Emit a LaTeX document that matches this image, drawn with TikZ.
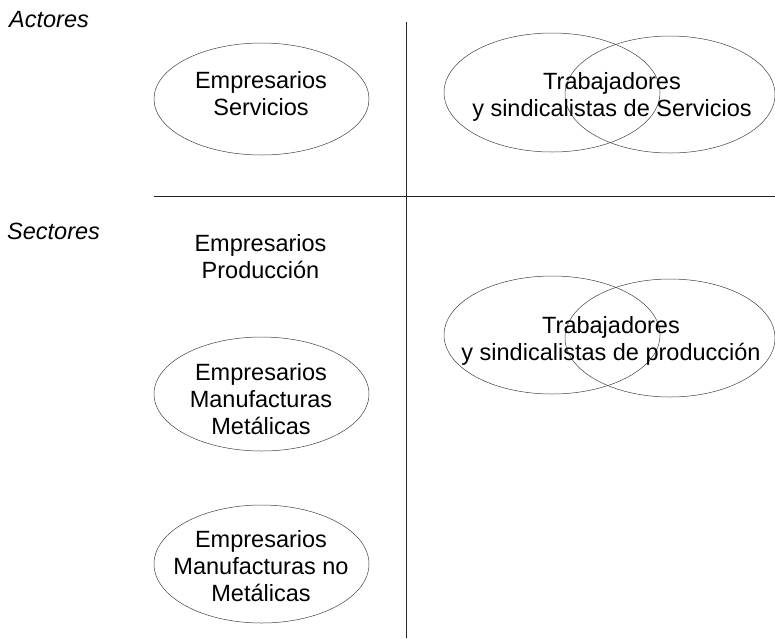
\documentclass[tikz,border=0pt]{standalone}
\usepackage{fontspec}
\setmainfont{Liberation Sans}
\usetikzlibrary{shapes.geometric}
\tikzset{
  oval/.style={draw=black!75, line width=0.5pt, ellipse, inner sep=0pt},
  rule/.style={draw=black!85, line width=0.9pt},
  txt/.style={inner sep=0pt, anchor=north, align=center, font=\fontsize{23.5}{27}\selectfont},
  head/.style={inner sep=0pt, anchor=base west, font=\fontsize{23.5}{27}\selectfont\itshape}
}
\begin{document}
\begin{tikzpicture}[x=1pt, y=-1pt]
\useasboundingbox (0,0) rectangle (775,638);
% rules
\coordinate (vt) at (406,22);
\coordinate (vb) at (406,638);
\coordinate (hl) at (154,196);
\coordinate (hr) at (775,196);
\draw[rule] (vt) -- (vb);
\draw[rule] (hl) -- (hr);
% headings
\node[head] (actores) at (9,27) {Actores};
\node[head] (sectores) at (7,239) {Sectores};
% left ellipses
\node[oval, minimum width=215pt, minimum height=112pt] (es) at (261.5,99) {};
\node[oval, minimum width=215pt, minimum height=114pt] (em) at (261.5,394) {};
\node[oval, minimum width=215pt, minimum height=118pt] (enm) at (261.5,564) {};
% right ellipses
\node[oval, minimum width=216pt, minimum height=119pt] (ts1) at (552,92.5) {};
\node[oval, minimum width=210pt, minimum height=117pt] (ts2) at (670,94.5) {};
\node[oval, minimum width=216pt, minimum height=118pt] (tp1) at (552,335) {};
\node[oval, minimum width=210pt, minimum height=118pt] (tp2) at (670,338) {};
% texts
\node[txt] (tes) at (261,70.8) {Empresarios\\Servicios};
\node[txt] (tep) at (260.5,234.2) {Empresarios\\Producción};
\node[txt] (tem) at (261,363.5) {Empresarios\\Manufacturas\\Metálicas};
\node[txt] (tenm) at (261,530.5) {Empresarios\\Manufacturas no\\Metálicas};
\node[txt] (tts) at (612,71.8) {Trabajadores\\y sindicalistas de Servicios};
\node[txt] (ttp) at (611,316.2) {Trabajadores\\y sindicalistas de producción};
\end{tikzpicture}
\end{document}
